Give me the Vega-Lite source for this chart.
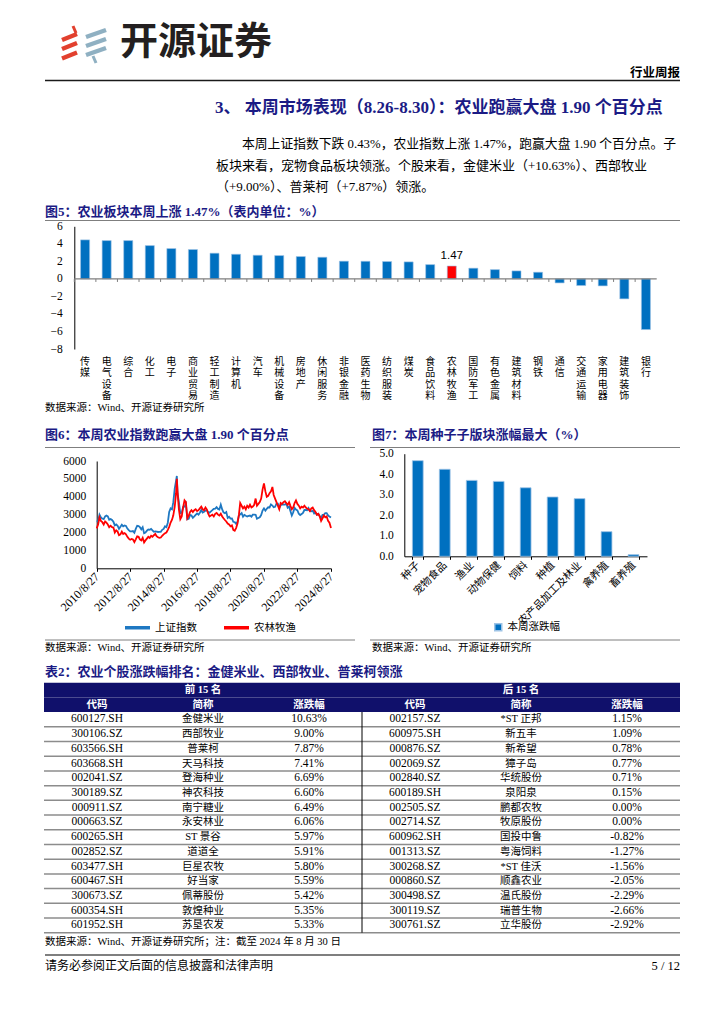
{
 "$schema": "https://vega.github.io/schema/vega-lite/v6.json",
 "width": 724, "height": 1024, "padding": 0, "autosize": {"type": "none"},
 "background": "white",
 "config": {"view": {"stroke": null}, "font": "Noto Sans CJK SC"},
 "data": {"values": [{}]},
 "datasets": {
  "tbl": [
   {"r":"1","c1":"600127.SH","n1":"金健米业","p1":"10.63%","c2":"002157.SZ","n2":"*ST 正邦","p2":"1.15%"},
   {"r":"2","c1":"300106.SZ","n1":"西部牧业","p1":"9.00%","c2":"600975.SH","n2":"新五丰","p2":"1.09%"},
   {"r":"3","c1":"603566.SH","n1":"普莱柯","p1":"7.87%","c2":"000876.SZ","n2":"新希望","p2":"0.78%"},
   {"r":"4","c1":"603668.SH","n1":"天马科技","p1":"7.41%","c2":"002069.SZ","n2":"獐子岛","p2":"0.77%"},
   {"r":"5","c1":"002041.SZ","n1":"登海种业","p1":"6.69%","c2":"002840.SZ","n2":"华统股份","p2":"0.71%"},
   {"r":"6","c1":"300189.SZ","n1":"神农科技","p1":"6.60%","c2":"600189.SH","n2":"泉阳泉","p2":"0.15%"},
   {"r":"7","c1":"000911.SZ","n1":"南宁糖业","p1":"6.49%","c2":"002505.SZ","n2":"鹏都农牧","p2":"0.00%"},
   {"r":"8","c1":"000663.SZ","n1":"永安林业","p1":"6.06%","c2":"002714.SZ","n2":"牧原股份","p2":"0.00%"},
   {"r":"9","c1":"600265.SH","n1":"ST 景谷","p1":"5.97%","c2":"600962.SH","n2":"国投中鲁","p2":"-0.82%"},
   {"r":"10","c1":"002852.SZ","n1":"道道全","p1":"5.91%","c2":"001313.SZ","n2":"粤海饲料","p2":"-1.27%"},
   {"r":"11","c1":"603477.SH","n1":"巨星农牧","p1":"5.80%","c2":"300268.SZ","n2":"*ST 佳沃","p2":"-1.56%"},
   {"r":"12","c1":"600467.SH","n1":"好当家","p1":"5.59%","c2":"000860.SZ","n2":"顺鑫农业","p2":"-2.05%"},
   {"r":"13","c1":"300673.SZ","n1":"佩蒂股份","p1":"5.42%","c2":"300498.SZ","n2":"温氏股份","p2":"-2.29%"},
   {"r":"14","c1":"600354.SH","n1":"敦煌种业","p1":"5.35%","c2":"300119.SZ","n2":"瑞普生物","p2":"-2.66%"},
   {"r":"15","c1":"601952.SH","n1":"苏垦农发","p1":"5.33%","c2":"300761.SZ","n2":"立华股份","p2":"-2.92%"}
  ],
  "hdr": [
   {"r":"h1","col":"n1","t":"前 15 名"},{"r":"h1","col":"n2","t":"后 15 名"},
   {"r":"h2","col":"c1","t":"代码"},{"r":"h2","col":"n1","t":"简称"},{"r":"h2","col":"p1","t":"涨跌幅"},
   {"r":"h2","col":"c2","t":"代码"},{"r":"h2","col":"n2","t":"简称"},{"r":"h2","col":"p2","t":"涨跌幅"}
  ],
  "idx": [
   {"d":"2010-08-27","上证指数":2610,"农林牧渔":2230},{"d":"2010-09-27","上证指数":2640,"农林牧渔":2450},{"d":"2010-10-27","上证指数":3000,"农林牧渔":2850},{"d":"2010-11-27","上证指数":2850,"农林牧渔":2650},{"d":"2010-12-27","上证指数":2780,"农林牧渔":2580},
   {"d":"2011-01-27","上证指数":2750,"农林牧渔":2450},{"d":"2011-02-27","上证指数":2900,"农林牧渔":2620},{"d":"2011-03-27","上证指数":2950,"农林牧渔":2550},{"d":"2011-04-27","上证指数":2900,"农林牧渔":2450},{"d":"2011-05-27","上证指数":2720,"农林牧渔":2300},{"d":"2011-06-27","上证指数":2760,"农林牧渔":2380},{"d":"2011-07-27","上证指数":2700,"农林牧渔":2300},{"d":"2011-08-27","上证指数":2600,"农林牧渔":2280},{"d":"2011-09-27","上证指数":2400,"农林牧渔":2000},{"d":"2011-10-27","上证指数":2450,"农林牧渔":2120},{"d":"2011-11-27","上证指数":2380,"农林牧渔":2050},{"d":"2011-12-27","上证指数":2200,"农林牧渔":1850},
   {"d":"2012-01-27","上证指数":2320,"农林牧渔":1900},{"d":"2012-02-27","上证指数":2440,"农林牧渔":2050},{"d":"2012-03-27","上证指数":2350,"农林牧渔":1920},{"d":"2012-04-27","上证指数":2400,"农林牧渔":1970},{"d":"2012-05-27","上证指数":2370,"农林牧渔":1900},{"d":"2012-06-27","上证指数":2220,"农林牧渔":1760},{"d":"2012-07-27","上证指数":2130,"农林牧渔":1660},{"d":"2012-08-27","上证指数":2060,"农林牧渔":1600},{"d":"2012-09-27","上证指数":2060,"农林牧渔":1640},{"d":"2012-10-27","上证指数":2080,"农林牧渔":1610},{"d":"2012-11-27","上证指数":1990,"农林牧渔":1470},{"d":"2012-12-27","上证指数":2200,"农林牧渔":1620},
   {"d":"2013-01-27","上证指数":2380,"农林牧渔":1790},{"d":"2013-02-27","上证指数":2360,"农林牧渔":1760},{"d":"2013-03-27","上证指数":2300,"农林牧渔":1620},{"d":"2013-04-27","上证指数":2180,"农林牧渔":1560},{"d":"2013-05-27","上证指数":2300,"农林牧渔":1700},{"d":"2013-06-27","上证指数":1960,"农林牧渔":1450},{"d":"2013-07-27","上证指数":2000,"农林牧渔":1560},{"d":"2013-08-27","上证指数":2100,"农林牧渔":1660},{"d":"2013-09-27","上证指数":2170,"农林牧渔":1760},{"d":"2013-10-27","上证指数":2150,"农林牧渔":1700},{"d":"2013-11-27","上证指数":2200,"农林牧渔":1820},{"d":"2013-12-27","上证指数":2120,"农林牧渔":1760},
   {"d":"2014-01-27","上证指数":2040,"农林牧渔":1850},{"d":"2014-02-27","上证指数":2060,"农林牧渔":1920},{"d":"2014-03-27","上证指数":2050,"农林牧渔":1800},{"d":"2014-04-27","上证指数":2030,"农林牧渔":1740},{"d":"2014-05-27","上证指数":2040,"农林牧渔":1700},{"d":"2014-06-27","上证指数":2040,"农林牧渔":1720},{"d":"2014-07-27","上证指数":2150,"农林牧渔":1820},{"d":"2014-08-27","上证指数":2200,"农林牧渔":1900},{"d":"2014-09-27","上证指数":2350,"农林牧渔":1960},{"d":"2014-10-27","上证指数":2300,"农林牧渔":2000},{"d":"2014-11-27","上证指数":2550,"农林牧渔":2150},{"d":"2014-12-27","上证指数":3150,"农林牧渔":2320},
   {"d":"2015-01-27","上证指数":3350,"农林牧渔":2560},{"d":"2015-02-27","上证指数":3300,"农林牧渔":2720},{"d":"2015-03-27","上证指数":3700,"农林牧渔":2960},{"d":"2015-04-27","上证指数":4450,"农林牧渔":3450},{"d":"2015-05-27","上证指数":4900,"农林牧渔":4200},{"d":"2015-06-12","上证指数":5166,"农林牧渔":5000},{"d":"2015-06-27","上证指数":4200,"农林牧渔":4300},{"d":"2015-07-27","上证指数":3700,"农林牧渔":3300},{"d":"2015-08-27","上证指数":3080,"农林牧渔":2750},{"d":"2015-09-27","上证指数":3100,"农林牧渔":2900},{"d":"2015-10-27","上证指数":3430,"农林牧渔":3400},{"d":"2015-11-27","上证指数":3440,"农林牧渔":3800},{"d":"2015-12-27","上证指数":3600,"农林牧渔":3700},
   {"d":"2016-01-27","上证指数":2740,"农林牧渔":2800},{"d":"2016-02-27","上证指数":2770,"农林牧渔":2950},{"d":"2016-03-27","上证指数":2980,"农林牧渔":3150},{"d":"2016-04-27","上证指数":2950,"农林牧渔":3250},{"d":"2016-05-27","上证指数":2820,"农林牧渔":3150},{"d":"2016-06-27","上证指数":2900,"农林牧渔":3250},{"d":"2016-07-27","上证指数":2990,"农林牧渔":3300},{"d":"2016-08-27","上证指数":3070,"农林牧渔":3200},{"d":"2016-09-27","上证指数":3000,"农林牧渔":3250},{"d":"2016-10-27","上证指数":3110,"农林牧渔":3350},{"d":"2016-11-27","上证指数":3260,"农林牧渔":3450},{"d":"2016-12-27","上证指数":3120,"农林牧渔":3300},
   {"d":"2017-01-27","上证指数":3160,"农林牧渔":3250},{"d":"2017-02-27","上证指数":3230,"农林牧渔":3400},{"d":"2017-03-27","上证指数":3250,"农林牧渔":3300},{"d":"2017-04-27","上证指数":3140,"农林牧渔":3050},{"d":"2017-05-27","上证指数":3110,"农林牧渔":2900},{"d":"2017-06-27","上证指数":3180,"农林牧渔":2950},{"d":"2017-07-27","上证指数":3250,"农林牧渔":3000},{"d":"2017-08-27","上证指数":3330,"农林牧渔":2900},{"d":"2017-09-27","上证指数":3340,"农林牧渔":3050},{"d":"2017-10-27","上证指数":3420,"农林牧渔":3100},{"d":"2017-11-27","上证指数":3320,"农林牧渔":3000},{"d":"2017-12-27","上证指数":3290,"农林牧渔":2950},
   {"d":"2018-01-27","上证指数":3560,"农林牧渔":3050},{"d":"2018-02-27","上证指数":3290,"农林牧渔":2900},{"d":"2018-03-27","上证指数":3130,"农林牧渔":2800},{"d":"2018-04-27","上证指数":3080,"农林牧渔":2700},{"d":"2018-05-27","上证指数":3140,"农林牧渔":2620},{"d":"2018-06-27","上证指数":2820,"农林牧渔":2500},{"d":"2018-07-27","上证指数":2880,"农林牧渔":2450},{"d":"2018-08-27","上证指数":2780,"农林牧渔":2350},{"d":"2018-09-27","上证指数":2790,"农林牧渔":2400},{"d":"2018-10-27","上证指数":2600,"农林牧渔":2150},{"d":"2018-11-27","上证指数":2580,"农林牧渔":2100},{"d":"2018-12-27","上证指数":2490,"农林牧渔":2250},
   {"d":"2019-01-27","上证指数":2600,"农林牧渔":2500},{"d":"2019-02-27","上证指数":2950,"农林牧渔":3000},{"d":"2019-03-27","上证指数":3020,"农林牧渔":3650},{"d":"2019-04-27","上证指数":3090,"农林牧渔":3500},{"d":"2019-05-27","上证指数":2890,"农林牧渔":3350},{"d":"2019-06-27","上证指数":2990,"农林牧渔":3450},{"d":"2019-07-27","上证指数":2940,"农林牧渔":3300},{"d":"2019-08-27","上证指数":2900,"农林牧渔":3500},{"d":"2019-09-27","上证指数":2930,"农林牧渔":3400},{"d":"2019-10-27","上证指数":2950,"农林牧渔":3550},{"d":"2019-11-27","上证指数":2890,"农林牧渔":3400},{"d":"2019-12-27","上证指数":3000,"农林牧渔":3450},
   {"d":"2020-01-27","上证指数":3000,"农林牧渔":3550},{"d":"2020-02-27","上证指数":2990,"农林牧渔":3900},{"d":"2020-03-27","上证指数":2770,"农林牧渔":3500},{"d":"2020-04-27","上证指数":2810,"农林牧渔":3600},{"d":"2020-05-27","上证指数":2850,"农林牧渔":3700},{"d":"2020-06-27","上证指数":2980,"农林牧渔":3900},{"d":"2020-07-27","上证指数":3230,"农林牧渔":4400},{"d":"2020-08-27","上证指数":3350,"农林牧渔":4750},{"d":"2020-09-27","上证指数":3220,"农林牧渔":4300},{"d":"2020-10-27","上证指数":3330,"农林牧渔":4000},{"d":"2020-11-27","上证指数":3410,"农林牧渔":4050},{"d":"2020-12-27","上证指数":3400,"农林牧渔":4200},
   {"d":"2021-01-27","上证指数":3570,"农林牧渔":4300},{"d":"2021-02-27","上证指数":3510,"农林牧渔":4550},{"d":"2021-03-27","上证指数":3420,"农林牧渔":4100},{"d":"2021-04-27","上证指数":3440,"农林牧渔":3900},{"d":"2021-05-27","上证指数":3610,"农林牧渔":3700},{"d":"2021-06-27","上证指数":3610,"农林牧渔":3500},{"d":"2021-07-27","上证指数":3380,"农林牧渔":3300},{"d":"2021-08-27","上证指数":3520,"农林牧渔":3650},{"d":"2021-09-27","上证指数":3580,"农林牧渔":3600},{"d":"2021-10-27","上证指数":3560,"农林牧渔":3700},{"d":"2021-11-27","上证指数":3560,"农林牧渔":3750},{"d":"2021-12-27","上证指数":3620,"农林牧渔":3650},
   {"d":"2022-01-27","上证指数":3390,"农林牧渔":3550},{"d":"2022-02-27","上证指数":3450,"农林牧渔":3700},{"d":"2022-03-27","上证指数":3210,"农林牧渔":3500},{"d":"2022-04-27","上证指数":2960,"农林牧渔":3300},{"d":"2022-05-27","上证指数":3130,"农林牧渔":3400},{"d":"2022-06-27","上证指数":3380,"农林牧渔":3650},{"d":"2022-07-27","上证指数":3280,"农林牧渔":3800},{"d":"2022-08-27","上证指数":3240,"农林牧渔":3600},{"d":"2022-09-27","上证指数":3050,"农林牧渔":3500},{"d":"2022-10-27","上证指数":2980,"农林牧渔":3350},{"d":"2022-11-27","上证指数":3030,"农林牧渔":3450},{"d":"2022-12-27","上证指数":3100,"农林牧渔":3400},
   {"d":"2023-01-27","上证指数":3260,"农林牧渔":3500},{"d":"2023-02-27","上证指数":3260,"农林牧渔":3400},{"d":"2023-03-27","上证指数":3250,"农林牧渔":3350},{"d":"2023-04-27","上证指数":3370,"农林牧渔":3300},{"d":"2023-05-27","上证指数":3210,"农林牧渔":3200},{"d":"2023-06-27","上证指数":3190,"农林牧渔":3350},{"d":"2023-07-27","上证指数":3220,"农林牧渔":3400},{"d":"2023-08-27","上证指数":3060,"农林牧渔":3250},{"d":"2023-09-27","上证指数":3110,"农林牧渔":3150},{"d":"2023-10-27","上证指数":2990,"农林牧渔":3000},{"d":"2023-11-27","上证指数":3040,"农林牧渔":3050},{"d":"2023-12-27","上证指数":2920,"农林牧渔":2900},
   {"d":"2024-01-27","上证指数":2820,"农林牧渔":2650},{"d":"2024-02-27","上证指数":2990,"农林牧渔":2800},{"d":"2024-03-27","上证指数":2990,"农林牧渔":2950},{"d":"2024-04-27","上证指数":3090,"农林牧渔":2850},{"d":"2024-05-27","上证指数":3090,"农林牧渔":2900},{"d":"2024-06-27","上证指数":2960,"农林牧渔":2650},{"d":"2024-07-27","上证指数":2890,"农林牧渔":2550},{"d":"2024-08-30","上证指数":2840,"农林牧渔":2250}
  ]
 },
 "resolve": {"scale": {"x": "independent", "y": "independent", "color": "independent"}},
 "layer": [
  {"mark": {"type": "rule", "color": "#E2402E", "strokeWidth": 4.5}, "encoding": {"x": {"value": 62}, "y": {"value": 40}, "x2": {"value": 77}, "y2": {"value": 34}}},
  {"mark": {"type": "rule", "color": "#E2402E", "strokeWidth": 4.5}, "encoding": {"x": {"value": 62}, "y": {"value": 49}, "x2": {"value": 77}, "y2": {"value": 43}}},
  {"mark": {"type": "rule", "color": "#E2402E", "strokeWidth": 4.5}, "encoding": {"x": {"value": 62}, "y": {"value": 58.5}, "x2": {"value": 77}, "y2": {"value": 52.5}}},
  {"mark": {"type": "rule", "color": "#E2402E", "strokeWidth": 3}, "encoding": {"x": {"value": 73}, "y": {"value": 26}, "x2": {"value": 76}, "y2": {"value": 33}}},
  {"mark": {"type": "rule", "color": "#8FB0C2", "strokeWidth": 4.5}, "encoding": {"x": {"value": 86}, "y": {"value": 37}, "x2": {"value": 106}, "y2": {"value": 30}}},
  {"mark": {"type": "rule", "color": "#8FB0C2", "strokeWidth": 4.5}, "encoding": {"x": {"value": 86}, "y": {"value": 46}, "x2": {"value": 106}, "y2": {"value": 39}}},
  {"mark": {"type": "rule", "color": "#8FB0C2", "strokeWidth": 4.5}, "encoding": {"x": {"value": 86}, "y": {"value": 55}, "x2": {"value": 106}, "y2": {"value": 48}}},
  {"mark": {"type": "rule", "color": "#8FB0C2", "strokeWidth": 3}, "encoding": {"x": {"value": 93}, "y": {"value": 56}, "x2": {"value": 96}, "y2": {"value": 63}}},
  {"data": {"values": [{"t": "开源证券"}]}, "mark": {"type": "text", "align": "left", "baseline": "middle", "fontSize": 38, "fontWeight": "bold", "color": "#231F20"}, "encoding": {"text": {"field": "t"}, "x": {"value": 120}, "y": {"value": 43}}},
  {"data": {"values": [{"t": "行业周报"}]}, "mark": {"type": "text", "align": "right", "baseline": "middle", "fontSize": 12.5, "fontWeight": "bold", "color": "#000"}, "encoding": {"text": {"field": "t"}, "x": {"value": 680}, "y": {"value": 73}}},
  {"mark": {"type": "rule", "color": "#1A1A1A", "strokeWidth": 1.5}, "encoding": {"x": {"value": 45}, "x2": {"value": 680}, "y": {"value": 80.5}, "y2": {"value": 80.5}}},
  {"data": {"values": [{"t": "3、 本周市场表现（8.26-8.30）：农业跑赢大盘 1.90 个百分点"}]}, "mark": {"type": "text", "align": "left", "baseline": "middle", "fontSize": 17, "fontWeight": "bold", "color": "#1B1B85", "font": "Liberation Serif, Noto Sans CJK SC"}, "encoding": {"text": {"field": "t"}, "x": {"value": 215}, "y": {"value": 108}}},
  {"data": {"values": [{"t": "本周上证指数下跌 0.43%，农业指数上涨 1.47%，跑赢大盘 1.90 个百分点。子"}]}, "mark": {"type": "text", "align": "left", "baseline": "middle", "fontSize": 12.8, "color": "#000", "font": "Liberation Serif, Noto Sans CJK SC"}, "encoding": {"text": {"field": "t"}, "x": {"value": 242}, "y": {"value": 144}}},
  {"data": {"values": [{"t": "板块来看，宠物食品板块领涨。个股来看，金健米业（+10.63%）、西部牧业"}]}, "mark": {"type": "text", "align": "left", "baseline": "middle", "fontSize": 13, "color": "#000", "font": "Liberation Serif, Noto Sans CJK SC"}, "encoding": {"text": {"field": "t"}, "x": {"value": 216}, "y": {"value": 165.5}}},
  {"data": {"values": [{"t": "（+9.00%）、普莱柯（+7.87%）领涨。"}]}, "mark": {"type": "text", "align": "left", "baseline": "middle", "fontSize": 13, "color": "#000", "font": "Liberation Serif, Noto Sans CJK SC"}, "encoding": {"text": {"field": "t"}, "x": {"value": 216}, "y": {"value": 187}}},
  {"data": {"values": [{"t": "图5：农业板块本周上涨 1.47%（表内单位：%）"}]}, "mark": {"type": "text", "align": "left", "baseline": "middle", "fontSize": 13, "fontWeight": "bold", "color": "#1B1B85", "font": "Liberation Serif, Noto Sans CJK SC"}, "encoding": {"text": {"field": "t"}, "x": {"value": 45}, "y": {"value": 212}}},
  {"mark": {"type": "rule", "color": "#7F7F7F", "strokeWidth": 1}, "encoding": {"x": {"value": 45}, "x2": {"value": 680}, "y": {"value": 220.5}, "y2": {"value": 220.5}}},
  {"data": {"values": [{"t": "数据来源：Wind、开源证券研究所"}]}, "mark": {"type": "text", "align": "left", "baseline": "middle", "fontSize": 10.5, "color": "#000", "font": "Liberation Serif, Noto Sans CJK SC"}, "encoding": {"text": {"field": "t"}, "x": {"value": 45}, "y": {"value": 408}}},
  {"data": {"values": [{"t": "图6：本周农业指数跑赢大盘 1.90 个百分点"}]}, "mark": {"type": "text", "align": "left", "baseline": "middle", "fontSize": 13, "fontWeight": "bold", "color": "#1B1B85", "font": "Liberation Serif, Noto Sans CJK SC"}, "encoding": {"text": {"field": "t"}, "x": {"value": 45}, "y": {"value": 435}}},
  {"data": {"values": [{"t": "图7：本周种子子版块涨幅最大（%）"}]}, "mark": {"type": "text", "align": "left", "baseline": "middle", "fontSize": 13, "fontWeight": "bold", "color": "#1B1B85", "font": "Liberation Serif, Noto Sans CJK SC"}, "encoding": {"text": {"field": "t"}, "x": {"value": 372}, "y": {"value": 435}}},
  {"mark": {"type": "rule", "color": "#7F7F7F", "strokeWidth": 1}, "encoding": {"x": {"value": 45}, "x2": {"value": 355}, "y": {"value": 447.5}, "y2": {"value": 447.5}}},
  {"mark": {"type": "rule", "color": "#7F7F7F", "strokeWidth": 1}, "encoding": {"x": {"value": 370}, "x2": {"value": 680}, "y": {"value": 447.5}, "y2": {"value": 447.5}}},
  {"mark": {"type": "rule", "color": "#7F7F7F", "strokeWidth": 1}, "encoding": {"x": {"value": 45}, "x2": {"value": 355}, "y": {"value": 640}, "y2": {"value": 640}}},
  {"mark": {"type": "rule", "color": "#7F7F7F", "strokeWidth": 1}, "encoding": {"x": {"value": 370}, "x2": {"value": 680}, "y": {"value": 640}, "y2": {"value": 640}}},
  {"data": {"values": [{"t": "数据来源：Wind、开源证券研究所"}]}, "mark": {"type": "text", "align": "left", "baseline": "middle", "fontSize": 10.5, "color": "#000", "font": "Liberation Serif, Noto Sans CJK SC"}, "encoding": {"text": {"field": "t"}, "x": {"value": 45}, "y": {"value": 648}}},
  {"data": {"values": [{"t": "数据来源：Wind、开源证券研究所"}]}, "mark": {"type": "text", "align": "left", "baseline": "middle", "fontSize": 10.5, "color": "#000", "font": "Liberation Serif, Noto Sans CJK SC"}, "encoding": {"text": {"field": "t"}, "x": {"value": 372}, "y": {"value": 648}}},
  {"data": {"values": [{"t": "表2：农业个股涨跌幅排名：金健米业、西部牧业、普莱柯领涨"}]}, "mark": {"type": "text", "align": "left", "baseline": "middle", "fontSize": 13, "fontWeight": "bold", "color": "#1B1B85", "font": "Liberation Serif, Noto Sans CJK SC"}, "encoding": {"text": {"field": "t"}, "x": {"value": 45}, "y": {"value": 672}}},
  {"data": {"values": [{"t": "数据来源：Wind、开源证券研究所；注：截至 2024 年 8 月 30 日"}]}, "mark": {"type": "text", "align": "left", "baseline": "middle", "fontSize": 10.5, "color": "#000", "font": "Liberation Serif, Noto Sans CJK SC"}, "encoding": {"text": {"field": "t"}, "x": {"value": 45}, "y": {"value": 942}}},
  {"mark": {"type": "rule", "color": "#7F7F7F", "strokeWidth": 2}, "encoding": {"x": {"value": 45}, "x2": {"value": 680}, "y": {"value": 955}, "y2": {"value": 955}}},
  {"data": {"values": [{"t": "请务必参阅正文后面的信息披露和法律声明"}]}, "mark": {"type": "text", "align": "left", "baseline": "middle", "fontSize": 12, "color": "#000"}, "encoding": {"text": {"field": "t"}, "x": {"value": 45}, "y": {"value": 966}}},
  {"data": {"values": [{"t": "5 / 12"}]}, "mark": {"type": "text", "align": "right", "baseline": "middle", "fontSize": 12.5, "color": "#000", "font": "Liberation Serif"}, "encoding": {"text": {"field": "t"}, "x": {"value": 680}, "y": {"value": 966}}},
  {
   "data": {"values": [
    {"k":"传媒","v":4.45},{"k":"电气设备","v":4.37},{"k":"综合","v":4.37},{"k":"化工","v":3.80},{"k":"电子","v":3.46},{"k":"商业贸易","v":3.35},{"k":"轻工制造","v":2.93},{"k":"计算机","v":2.81},{"k":"汽车","v":2.70},{"k":"机械设备","v":2.66},{"k":"房地产","v":2.55},{"k":"休闲服务","v":2.47},{"k":"非银金融","v":2.02},{"k":"医药生物","v":2.01},{"k":"纺织服装","v":1.98},{"k":"煤炭","v":1.94},{"k":"食品饮料","v":1.63},{"k":"农林牧渔","v":1.47},{"k":"国防军工","v":1.22},{"k":"有色金属","v":1.06},{"k":"建筑材料","v":0.91},{"k":"钢铁","v":0.76},{"k":"通信","v":-0.46},{"k":"交通运输","v":-0.76},{"k":"家用电器","v":-0.80},{"k":"建筑装饰","v":-2.28},{"k":"银行","v":-5.78}
   ]},
   "layer": [
    {"mark": {"type": "bar", "stroke": "#9DC3E6", "strokeWidth": 0.6},
     "encoding": {
      "x": {"field": "k", "type": "nominal", "sort": null, "scale": {"type": "band", "range": [74.3, 656.7], "paddingInner": 0.58, "paddingOuter": 0.29},
            "axis": {"orient": "bottom", "offset": -675, "domain": false, "ticks": false, "labelAngle": 0, "labelAlign": "center", "labelBaseline": "top", "labelPadding": 7, "labelFont": "Liberation Serif, Noto Sans CJK SC", "labelFontSize": 10, "labelLineHeight": 11.6, "labelColor": "#000", "labelExpr": "split(datum.label, '')", "labelOverlap": false, "title": null}},
      "y": {"field": "v", "type": "quantitative", "scale": {"domain": [-8, 6], "range": [349, 226.3], "nice": false, "zero": false},
            "axis": {"orient": "left", "offset": -74.3, "values": [-8, -6, -4, -2, 0, 2, 4, 6], "format": "d", "ticks": false, "grid": false, "domainColor": "#000", "labelFont": "Liberation Serif", "labelFontSize": 11.5, "labelColor": "#000", "labelPadding": 12, "title": null}},
      "color": {"condition": {"test": "datum.k === '农林牧渔'", "value": "#FF0000"}, "value": "#0070C0"}
     }},
    {"mark": {"type": "rule", "color": "#7F7F7F", "xOffset": -10.78}, "encoding": {"x": {"field": "k", "type": "nominal", "sort": null}, "y": {"datum": 0}, "y2": {"datum": -0.35}}},
    {"data": {"values": [{}]}, "mark": {"type": "rule", "color": "#7F7F7F", "strokeWidth": 1.2}, "encoding": {"x": {"value": 74.3}, "x2": {"value": 656.7}, "y": {"datum": 0}}},
    {"transform": [{"filter": "datum.k === '农林牧渔'"}], "mark": {"type": "text", "baseline": "bottom", "dy": -5, "fontSize": 11.5, "font": "Liberation Sans", "color": "#000"},
     "encoding": {"x": {"field": "k", "type": "nominal", "sort": null}, "y": {"field": "v", "type": "quantitative"}, "text": {"field": "v", "type": "quantitative", "format": ".2f"}}}
   ]
  },
  {
   "data": {"name": "idx"},
   "transform": [{"fold": ["上证指数", "农林牧渔"], "as": ["k", "v"]}],
   "mark": {"type": "line", "strokeWidth": 1.8},
   "encoding": {
    "x": {"field": "d", "type": "temporal", "scale": {"domain": [{"year": 2010, "month": 8, "date": 27}, {"year": 2024, "month": 8, "date": 30}], "range": [96.7, 331], "nice": false},
          "axis": {"orient": "bottom", "offset": -455.7, "values": [{"year": 2010, "month": 8, "date": 27}, {"year": 2012, "month": 8, "date": 27}, {"year": 2014, "month": 8, "date": 27}, {"year": 2016, "month": 8, "date": 27}, {"year": 2018, "month": 8, "date": 27}, {"year": 2020, "month": 8, "date": 27}, {"year": 2022, "month": 8, "date": 27}, {"year": 2024, "month": 8, "date": 27}],
                   "format": "%Y/%-m/%-d", "labelAngle": -45, "labelAlign": "right", "labelBaseline": "middle", "labelFont": "Liberation Serif", "labelFontSize": 12, "labelColor": "#000", "labelPadding": 3, "labelFlush": false, "labelOverlap": false, "labelBound": false, "tickSize": 3, "tickColor": "#000", "domainColor": "#000", "grid": false, "title": null}},
    "y": {"field": "v", "type": "quantitative", "scale": {"domain": [0, 6000], "range": [568.3, 461], "nice": false},
          "axis": {"orient": "left", "offset": -96.7, "values": [0, 1000, 2000, 3000, 4000, 5000, 6000], "format": "d", "ticks": false, "grid": false, "domainColor": "#000", "labelFont": "Liberation Serif", "labelFontSize": 11.5, "labelColor": "#000", "labelPadding": 11, "title": null}},
    "color": {"field": "k", "type": "nominal", "scale": {"domain": ["上证指数", "农林牧渔"], "range": ["#1E78C2", "#FF0000"]},
              "legend": {"orient": "none", "legendX": 123, "legendY": 613, "direction": "horizontal", "title": null, "symbolType": "stroke", "symbolStrokeWidth": 3.5, "symbolSize": 625, "labelFont": "Noto Sans CJK SC", "labelFontSize": 10.5, "labelColor": "#000", "columnPadding": 20, "labelOffset": 3, "padding": 0}}
   }
  },
  {
   "data": {"values": [
    {"k":"种子","v":4.66},{"k":"宠物食品","v":4.24},{"k":"渔业","v":3.70},{"k":"动物保健","v":3.65},{"k":"饲料","v":3.34},{"k":"种植","v":2.89},{"k":"农产品加工及林业","v":2.81},{"k":"禽养殖","v":1.20},{"k":"畜养殖","v":0.08}
   ]},
   "mark": {"type": "bar", "stroke": "#9DC3E6", "strokeWidth": 0.8},
   "encoding": {
    "x": {"field": "k", "type": "nominal", "sort": null, "scale": {"type": "band", "range": [404.3, 647], "paddingInner": 0.6, "paddingOuter": 0.3},
          "axis": {"orient": "bottom", "offset": -467.7, "domainColor": "#000", "ticks": true, "tickBand": "extent", "tickSize": 3, "tickColor": "#000", "labelAngle": -45, "labelAlign": "right", "labelBaseline": "middle", "labelFont": "Noto Sans CJK SC", "labelFontSize": 10.5, "labelColor": "#000", "labelPadding": 4, "labelOverlap": false, "title": null}},
    "y": {"field": "v", "type": "quantitative", "scale": {"domain": [0, 5], "range": [556.3, 453.7], "nice": false},
          "axis": {"orient": "left", "offset": -404.3, "values": [0, 1, 2, 3, 4, 5], "format": ".1f", "ticks": false, "grid": false, "domainColor": "#000", "labelFont": "Liberation Serif", "labelFontSize": 11.5, "labelColor": "#000", "labelPadding": 11, "title": null}},
    "color": {"datum": "本周涨跌幅", "type": "nominal", "scale": {"range": ["#0070C0"]},
              "legend": {"orient": "none", "legendX": 493, "legendY": 622, "title": null, "symbolType": "square", "symbolSize": 49, "labelFont": "Noto Sans CJK SC", "labelFontSize": 10.5, "labelColor": "#000", "labelOffset": 4, "padding": 0}}
   }
  },
  {
   "layer": [
    {"data": {"name": "tbl"}, "mark": {"type": "rule", "color": "#8C8C8C", "strokeWidth": 1.5},
     "encoding": {"y": {"field": "r", "type": "nominal", "bandPosition": 1, "scale": {"type": "band", "domain": ["h1","h2","1","2","3","4","5","6","7","8","9","10","11","12","13","14","15"], "range": [682.7, 932.7], "paddingInner": 0, "paddingOuter": 0}, "axis": null}, "x": {"value": 44}, "x2": {"value": 680}}},
    {"mark": {"type": "rule", "color": "#000", "strokeWidth": 1},
     "encoding": {"x": {"datum": "c2", "type": "nominal", "bandPosition": 0, "scale": {"type": "band", "domain": ["c1","n1","p1","c2","n2","p2"], "range": [44, 680], "paddingInner": 0, "paddingOuter": 0}, "axis": null}, "y": {"value": 711}, "y2": {"value": 932.7}}},
    {"data": {"values": [{"r": "h1"}, {"r": "h2"}]}, "mark": {"type": "rect", "color": "#10106B"},
     "encoding": {"y": {"field": "r", "type": "nominal", "scale": {"type": "band", "domain": ["h1","h2","1","2","3","4","5","6","7","8","9","10","11","12","13","14","15"], "range": [682.7, 932.7], "paddingInner": 0, "paddingOuter": 0}, "axis": null}, "x": {"value": 44}, "x2": {"value": 680}}},
    {"data": {"name": "hdr"}, "mark": {"type": "text", "color": "white", "fontWeight": "bold", "fontSize": 10.5, "font": "Liberation Serif, Noto Sans CJK SC"},
     "encoding": {"x": {"field": "col", "type": "nominal", "scale": {"type": "band", "domain": ["c1","n1","p1","c2","n2","p2"], "range": [44, 680], "paddingInner": 0, "paddingOuter": 0}, "axis": null},
                  "y": {"field": "r", "type": "nominal", "scale": {"type": "band", "domain": ["h1","h2","1","2","3","4","5","6","7","8","9","10","11","12","13","14","15"], "range": [682.7, 932.7], "paddingInner": 0, "paddingOuter": 0}, "axis": null},
                  "text": {"field": "t"}}},
    {"data": {"name": "tbl"}, "transform": [{"fold": ["c1", "p1", "c2", "p2"], "as": ["col", "t"]}], "mark": {"type": "text", "color": "#000", "fontSize": 11.5, "font": "Liberation Serif"},
     "encoding": {"x": {"field": "col", "type": "nominal", "scale": {"type": "band", "domain": ["c1","n1","p1","c2","n2","p2"], "range": [44, 680], "paddingInner": 0, "paddingOuter": 0}, "axis": null},
                  "y": {"field": "r", "type": "nominal", "scale": {"type": "band", "domain": ["h1","h2","1","2","3","4","5","6","7","8","9","10","11","12","13","14","15"], "range": [682.7, 932.7], "paddingInner": 0, "paddingOuter": 0}, "axis": null},
                  "text": {"field": "t"}}},
    {"data": {"name": "tbl"}, "transform": [{"fold": ["n1", "n2"], "as": ["col", "t"]}], "mark": {"type": "text", "color": "#000", "fontSize": 10.5, "font": "Liberation Serif, Noto Sans CJK SC"},
     "encoding": {"x": {"field": "col", "type": "nominal", "scale": {"type": "band", "domain": ["c1","n1","p1","c2","n2","p2"], "range": [44, 680], "paddingInner": 0, "paddingOuter": 0}, "axis": null},
                  "y": {"field": "r", "type": "nominal", "scale": {"type": "band", "domain": ["h1","h2","1","2","3","4","5","6","7","8","9","10","11","12","13","14","15"], "range": [682.7, 932.7], "paddingInner": 0, "paddingOuter": 0}, "axis": null},
                  "text": {"field": "t"}}}
   ]
  }
 ]
}
